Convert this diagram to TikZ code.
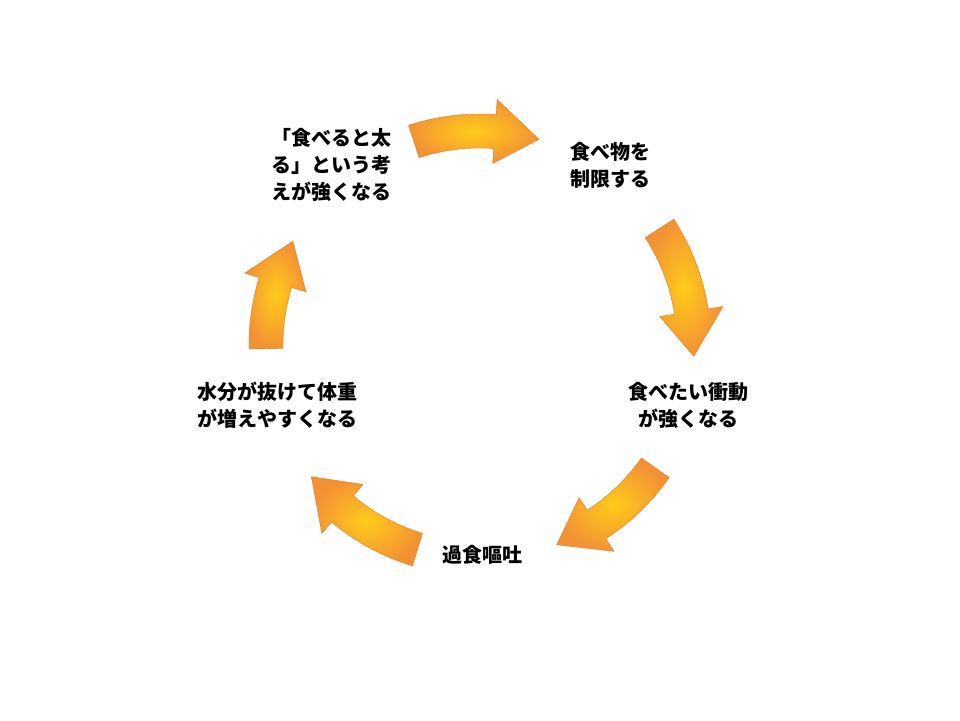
\documentclass[tikz,border=0pt]{standalone}
\usepackage{fontspec}
\newfontfamily\cjk{Noto Sans CJK JP}
\usetikzlibrary{positioning}
\definecolor{arrowfill}{RGB}{243,146,52}
\definecolor{arrowedge}{RGB}{226,118,28}

% clockwise block arrow on the cycle: start angle, end angle
\newcommand{\cyclearrow}[2]{%
  \pgfmathsetmacro\headbase{#2+12}
  \path[cycle-arrow] (#1:231) arc (#1:\headbase:231) -- (\headbase:246)
    -- (#2:214) -- (\headbase:182) -- (\headbase:197)
    arc (\headbase:#1:197) -- cycle;
}

\begin{document}
\begin{tikzpicture}[
x=1pt, y=1pt,
stage/.style={text centered, align=center, font=\cjk\bfseries\fontsize{20}{27}\selectfont},
cycle-arrow/.style={draw=arrowedge, thin, inner color=orange!45!yellow!90, outer color=arrowfill}
]
\useasboundingbox (0,0) rectangle (960,720);

\node[stage] (belief) at (331,555) {「食べると太\\る」という考\\えが強くなる};
\node[stage] (limit) at (610,555) {食べ物を\\制限する};
\node[stage] (urge) at (688,315) {食べたい衝動\\が強くなる};
\node[stage] (binge) at (482,165) {過食嘔吐};
\node[stage] (water) at (277,315) {水分が抜けて体重\\が増えやすくなる};

\begin{scope}[shift={(480,375)}]
\cyclearrow{108}{74}
\cyclearrow{33}{-3}
\cyclearrow{-35}{-69}
\cyclearrow{-107}{-142}
\cyclearrow{181}{151}
\end{scope}
\end{tikzpicture}
\end{document}
